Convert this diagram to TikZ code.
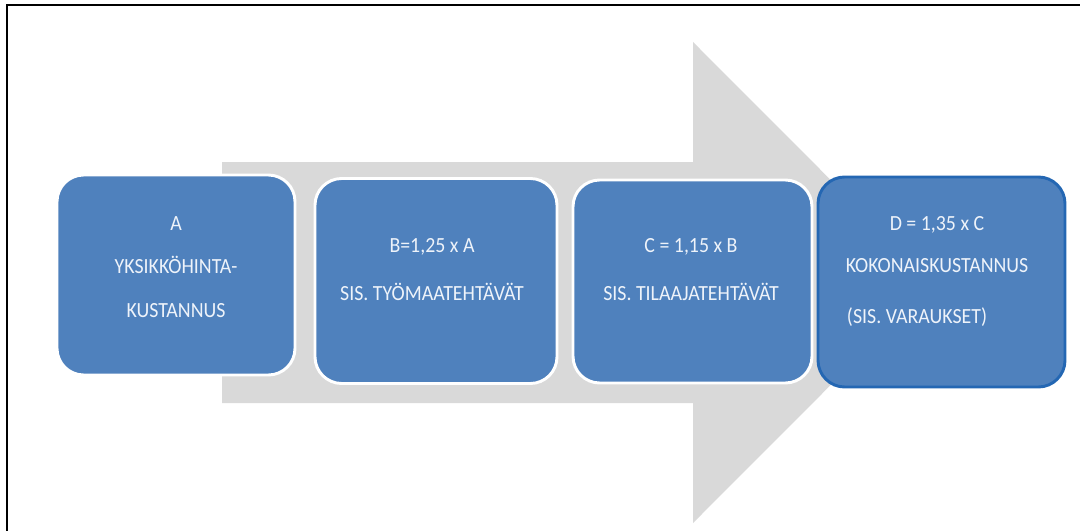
\documentclass[tikz,border=0pt]{standalone}
\usepackage{fontspec}
\setmainfont[FakeStretch=0.92]{Carlito}
\usetikzlibrary{positioning}
\definecolor{StageBlue}{HTML}{4F81BD}
\definecolor{StageEdge}{HTML}{2467B3}
\definecolor{FlowGray}{HTML}{D9D9D9}
\definecolor{StageText}{HTML}{EEF3FA}
\tikzset{
  stage/.style={rectangle, rounded corners=20pt, fill=StageBlue, draw=white,
    line width=2.2pt, inner sep=0pt},
  stagetext/.style={align=center, text=StageText,
    font=\fontsize{16.2}{31.5}\selectfont},
}
\begin{document}
\begin{tikzpicture}[x=0.75pt, y=-0.75pt]
        \useasboundingbox (0,0) rectangle (1080,531);
        % Frame
        \draw[line width=2pt] (7,531) -- (7,5) -- (1080,5);

        % Gray process arrow behind the stages
        \fill[FlowGray] (222,162) -- (693,162) -- (693,42) -- (933,282.5)
            -- (693,523) -- (693,403) -- (222,403) -- cycle;

        % Stages
        \node[stage, minimum width=178.5pt, minimum height=150pt] (unitcost) at (176,275) {};
        \node[stage, minimum width=181.5pt, minimum height=153.75pt] (sitecost) at (436,281) {};
        \node[stage, minimum width=179.25pt, minimum height=152.25pt] (clientcost) at (692.5,281.5) {};
        \node[stage, draw=StageEdge, minimum width=185.25pt, minimum height=157.5pt] (totalcost) at (941.5,282) {};

        % Stage texts
        \node[stagetext] (unitcosttext) at (176,267) {A\\[1.1pt]YKSIKKÖHINTA-\\[1.1pt]KUSTANNUS};
        \node[stagetext] (sitecosttext) at (432,270) {B=1,25 x A\\[4.5pt]SIS. TYÖMAATEHTÄVÄT};
        \node[stagetext] (clientcosttext) at (691,269.5) {C = 1,15 x B\\[4pt]SIS. TILAAJATEHTÄVÄT};
        \node[stagetext] (totalcosttext) at (937,271.5) {D = 1,35 x C\\KOKONAISKUSTANNUS\\[6.75pt](SIS. VARAUKSET)\hspace*{30pt}};

    \end{tikzpicture}
\end{document}
